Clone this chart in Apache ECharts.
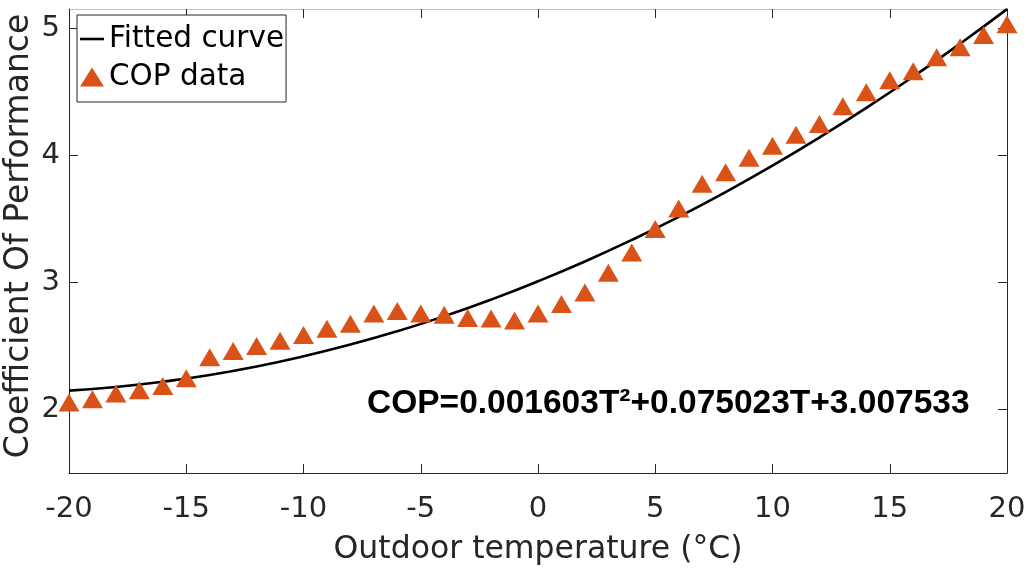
<!DOCTYPE html>
<html>
<head>
<meta charset="utf-8">
<script src="https://cdn.jsdelivr.net/npm/echarts@6/dist/echarts.min.js"></script>
<style>
html,body{margin:0;padding:0;background:#fff;}
#chart{width:1028px;height:569px;}
</style>
</head>
<body>
<div id="chart"></div>
<script>
// Data
const temps = [-20,-19,-18,-17,-16,-15,-14,-13,-12,-11,-10,-9,-8,-7,-6,-5,-4,-3,-2,-1,0,1,2,3,4,5,6,7,8,9,10,11,12,13,14,15,16,17,18,19,20];
const copData = [2.055,2.08,2.125,2.15,2.185,2.245,2.41,2.46,2.50,2.54,
                 2.585,2.635,2.675,2.755,2.775,2.755,2.745,2.72,2.715,2.70,
                 2.755,2.83,2.92,3.075,3.235,3.42,3.58,3.775,3.865,3.98,
                 4.075,4.16,4.245,4.385,4.495,4.59,4.66,4.77,4.85,4.945,5.03];
const fitT = [-20,-18,-16,-14,-12,-10,-8,-6,-4,-2,0,2,4,6,8,10,12,14,16,18,20];
const fitCop = [2.148,2.177,2.218,2.271,2.338,2.418,2.510,2.615,2.733,2.864,3.008,3.164,3.333,3.515,3.710,3.918,4.139,4.372,4.618,4.877,5.149];
const yTicks = [2,3,4,5];
const equationText = 'COP=0.001603T\u00B2+0.075023T+3.007533';
const xTitle = 'Outdoor temperature (\u00B0C)';
const yTitle = 'Coefficient Of Performance';
const seriesNames = ['Fitted curve','COP data'];

const textColor = '#262626';
const tickFont = 'DejaVu Sans';

const chart = echarts.init(document.getElementById('chart'), null, {renderer:'canvas'});
const option = {
  backgroundColor:'#ffffff',
  animation:false,
  grid:{left:69,right:21,top:9,bottom:96,containLabel:false,outerBoundsMode:'none'},
  legend:{
    orient:'vertical',
    left:77, top:15,
    backgroundColor:'#fff',
    borderColor:'#262626', borderWidth:1,
    padding:[9,2,10,3],
    itemWidth:24, itemHeight:19,
    itemGap:8,
    textStyle:{fontFamily:tickFont,fontSize:29.5,color:'#000'},
    data:[
      {name:seriesNames[0],icon:'path://M0,0 M0,8.2 L24,8.2 L24,10.8 L0,10.8 Z M24,19'},
      {name:seriesNames[1],icon:'triangle'}
    ]
  },
  xAxis:[{
    type:'value', min:-20, max:20, interval:5, position:'bottom',
    name:xTitle, nameLocation:'middle', nameGap:61,
    nameTextStyle:{fontFamily:tickFont,fontSize:31.5,color:textColor},
    axisLine:{show:true,onZero:false,lineStyle:{color:textColor,width:1}},
    axisTick:{show:true,inside:true,length:9,lineStyle:{color:textColor,width:1}},
    axisLabel:{show:true,margin:22,fontFamily:tickFont,fontSize:29,color:textColor},
    splitLine:{show:false}
  },{
    type:'value', min:-20, max:20, interval:5, position:'top',
    axisLine:{show:true,onZero:false,lineStyle:{color:'#c4c4c4',width:1}},
    axisTick:{show:true,inside:true,length:9,lineStyle:{color:textColor,width:1}},
    axisLabel:{show:false}, splitLine:{show:false}
  }],
  yAxis:[{
    type:'value', min:1.5, max:5.15, position:'left',
    axisLine:{show:true,onZero:false,lineStyle:{color:textColor,width:1}},
    axisTick:{show:true,inside:true,length:9,customValues:yTicks,lineStyle:{color:textColor,width:1}},
    axisLabel:{show:true,margin:9,customValues:yTicks,fontFamily:tickFont,fontSize:29,color:textColor},
    splitLine:{show:false}
  },{
    type:'value', min:1.5, max:5.15, position:'right',
    axisLine:{show:true,onZero:false,lineStyle:{color:textColor,width:1}},
    axisTick:{show:true,inside:true,length:9,customValues:yTicks,lineStyle:{color:textColor,width:1}},
    axisLabel:{show:false}, splitLine:{show:false}
  }],
  series:[{
    name:seriesNames[0], type:'line', xAxisIndex:0, yAxisIndex:0,
    data:fitT.map((t,i)=>[t,fitCop[i]]),
    smooth:true, symbol:'none', showSymbol:false,
    lineStyle:{color:'#000',width:2.6},
    itemStyle:{color:'#000'},
    z:2
  },{
    name:seriesNames[1], type:'scatter', xAxisIndex:0, yAxisIndex:0,
    data:temps.map((t,i)=>[t,copData[i]]),
    symbol:'triangle', symbolSize:[21,18],
    itemStyle:{color:'#D95319',opacity:1},
    z:3
  }],
  graphic:[{
    type:'text', left:367, top:387, z:10,
    style:{text:equationText, font:'bold 33.5px "Liberation Sans"', fill:'#000'}
  },{
    type:'text', x:19, y:236, rotation:Math.PI/2, z:10,
    style:{text:yTitle, font:'33px "DejaVu Sans"', fill:textColor, align:'center', verticalAlign:'middle'}
  }]
};
chart.setOption(option);
</script>
</body>
</html>
